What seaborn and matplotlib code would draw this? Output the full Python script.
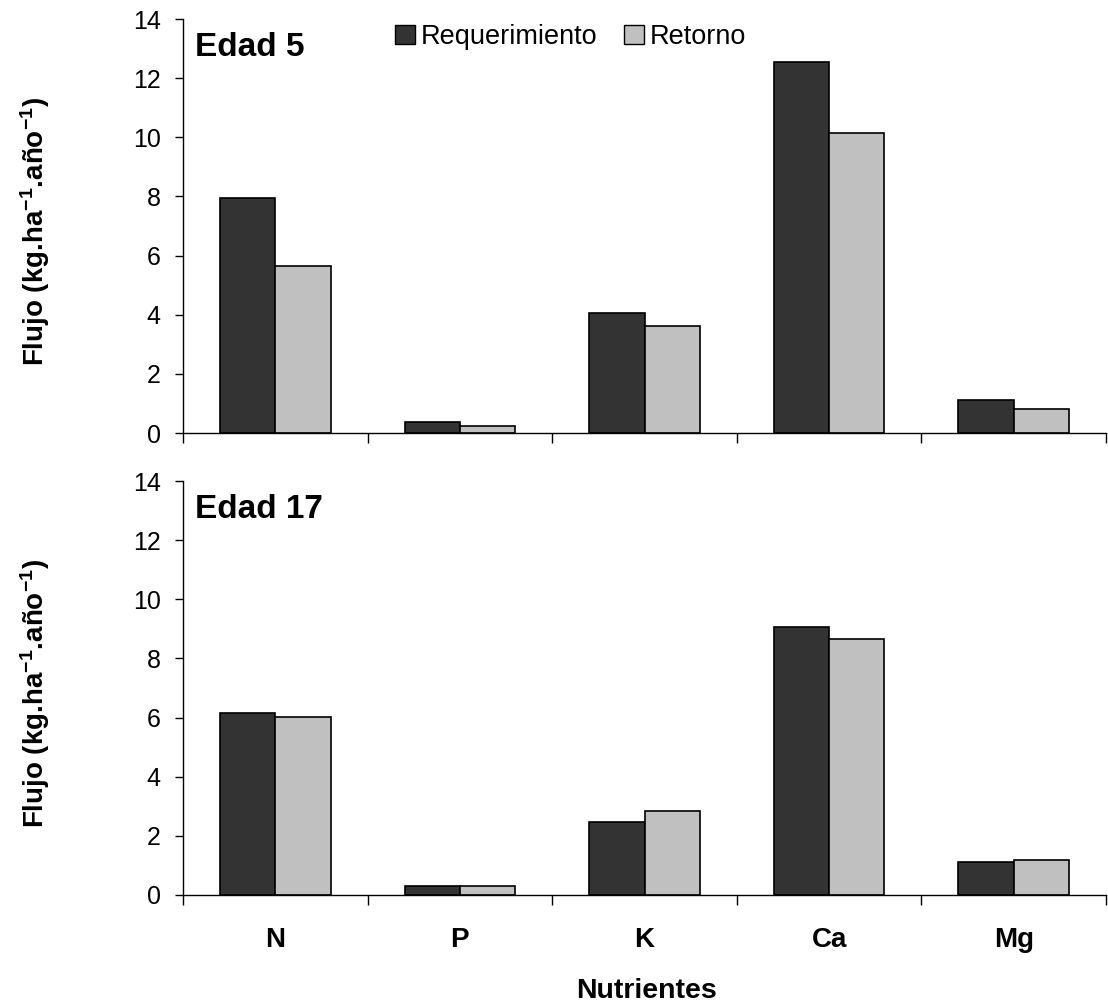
import matplotlib
matplotlib.use("Agg")
import matplotlib.pyplot as plt
import seaborn as sns
import pandas as pd
from matplotlib.ticker import FixedLocator

nutrients = ["N", "P", "K", "Ca", "Mg"]
series = ["Requerimiento", "Retorno"]
edad5_req = [7.93, 0.38, 4.07, 12.56, 1.12]
edad5_ret = [5.66, 0.25, 3.63, 10.16, 0.81]
edad17_req = [6.14, 0.32, 2.47, 9.05, 1.12]
edad17_ret = [6.03, 0.31, 2.84, 8.67, 1.18]
panel_titles = ["Edad 5", "Edad 17"]
yticks = [0, 2, 4, 6, 8, 10, 12, 14]
ylabel_text = "Flujo (kg.ha$^{\\mathbf{-1}}$.año$^{\\mathbf{-1}}$)"

def make_df(req, ret):
    rows = []
    for n, a, b in zip(nutrients, req, ret):
        rows.append({"Nutriente": n, "Serie": series[0], "Valor": a})
        rows.append({"Nutriente": n, "Serie": series[1], "Valor": b})
    return pd.DataFrame(rows)

sns.set_theme(style="white")
plt.rcParams["font.family"] = ["Liberation Sans", "DejaVu Sans"]
plt.rcParams.update({
    "text.color": "black", "axes.labelcolor": "black",
    "xtick.color": "black", "ytick.color": "black",
    "mathtext.fontset": "custom", "mathtext.rm": "Liberation Sans",
    "mathtext.bf": "Liberation Sans:bold", "mathtext.it": "Liberation Sans:italic",
})

fig = plt.figure(figsize=(11.08, 10.07), dpi=100)
L, W, H = 183 / 1108, 923 / 1108, 414 / 1007
ax1 = fig.add_axes([L, 1 - 433 / 1007, W, H])
ax2 = fig.add_axes([L, 1 - 895 / 1007, W, H])

palette = {series[0]: "#333333", series[1]: "#c0c0c0"}

for ax, (req, ret), title in zip([ax1, ax2], [(edad5_req, edad5_ret), (edad17_req, edad17_ret)], panel_titles):
    df = make_df(req, ret)
    sns.barplot(data=df, x="Nutriente", y="Valor", hue="Serie", order=nutrients,
                hue_order=series, palette=palette, width=0.6, edgecolor="black",
                linewidth=1.2, ax=ax, legend=(ax is ax1), saturation=1)
    ax.set_xlim(-0.5, 4.5)
    ax.set_ylim(0, 14)
    ax.set_yticks(yticks)
    ax.tick_params(axis="y", which="major", direction="out", length=6, width=1,
                   labelsize=18, left=True, pad=10)
    ax.xaxis.set_minor_locator(FixedLocator([-0.5, 0.5, 1.5, 2.5, 3.5, 4.5]))
    ax.tick_params(axis="x", which="minor", direction="out", length=7, width=1,
                   bottom=True)
    ax.tick_params(axis="x", which="major", length=0, pad=23, labelsize=20)
    for lab in ax.get_xticklabels():
        lab.set_fontweight("bold")
    for s in ["top", "right"]:
        ax.spines[s].set_visible(False)
    for s in ["left", "bottom"]:
        ax.spines[s].set_color("black")
        ax.spines[s].set_linewidth(1.0)
    ax.set_xlabel("")
    ax.set_ylabel("")
    ax.text(0.013, 0.931, title, transform=ax.transAxes,
            fontsize=24, fontweight="bold", va="center", ha="left")

ax1.set_xticklabels([])
leg = ax1.legend(loc="center", bbox_to_anchor=(0.420, 0.957), ncol=2, frameon=False,
                 fontsize=19.5, handlelength=0.74, handleheight=0.74, handletextpad=0.2,
                 columnspacing=1.0, borderpad=0)
for h in leg.legend_handles:
    h.set_edgecolor("black")
    h.set_linewidth(1.0)

fig.text(35 / 1108, 1 - 232 / 1007, ylabel_text, rotation=90, ha="center",
         va="center", fontsize=20, fontweight="bold")
fig.text(35 / 1108, 1 - 694 / 1007, ylabel_text, rotation=90, ha="center",
         va="center", fontsize=20, fontweight="bold")
fig.text(647 / 1108, 1 - 991 / 1007, "Nutrientes", ha="center", va="center",
         fontsize=20.5, fontweight="bold")

fig.savefig("out.png", dpi=100, facecolor="white")
